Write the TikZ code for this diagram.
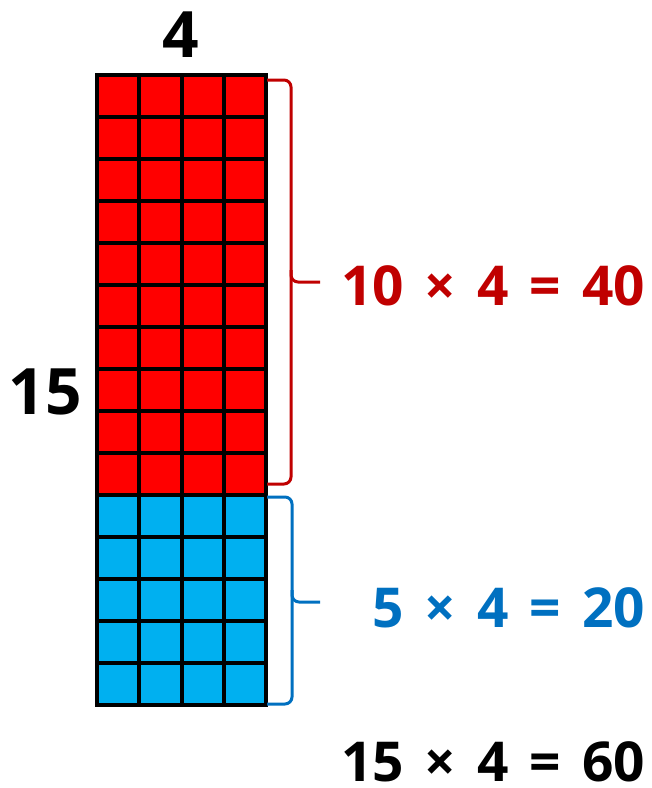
\documentclass[tikz,border=0pt]{standalone}
\usepackage{fontspec}
\setmainfont{Open Sans}
\definecolor{cellred}{HTML}{FF0000}
\definecolor{darkred}{HTML}{C00000}
\definecolor{cellblue}{HTML}{00B0F0}
\definecolor{darkblue}{HTML}{0070C0}
\newcommand{\sumfont}{\fontsize{55}{60}\selectfont\bfseries\spaceskip 21pt\relax}
\tikzset{
  gridline/.style={line width=4pt},
  bracket/.style={line width=3pt,rounded corners=7pt},
  sumtext/.style={font=\sumfont,anchor=base east,inner sep=0pt},
  sidelabel/.style={font=\fontsize{64}{70}\selectfont\bfseries,inner sep=0pt}
}
\begin{document}
\begin{tikzpicture}[x=1pt,y=-1pt]
	  \useasboundingbox (0,0) rectangle (652,788);
	  % cells
	  \fill[cellred] (97,75) rectangle (266,495);
	  \fill[cellblue] (97,495) rectangle (266,705);
	  \foreach \c in {97,139.25,181.5,223.75,266}
	    \draw[gridline] (\c,75) -- (\c,705);
	  \foreach \r in {0,...,15}
	    \draw[gridline] (95,75+42*\r) -- (268,75+42*\r);
	  % labels
	  \node[sidelabel] (wide) at (181,35) {4};
	  \node[sidelabel] (tall) at (45,392) {15};
	  % braces
	  \draw[bracket,darkred] (267,80) -- (291,80) -- (291,282) -- (320,282);
	  \draw[bracket,darkred] (291,270) -- (291,484) -- (267,484);
	  \draw[bracket,darkblue] (267,497) -- (292,497) -- (292,602) -- (320,602);
	  \draw[bracket,darkblue] (292,590) -- (292,704) -- (267,704);
	  \node[sumtext,darkred] (top) at (645,305) {10 × 4 = 40};
	  \node[sumtext,darkblue] (bottom) at (645,627) {5 × 4 = 20};
	  \node[sumtext] (total) at (645,781) {15 × 4 = 60};
\end{tikzpicture}
\end{document}
